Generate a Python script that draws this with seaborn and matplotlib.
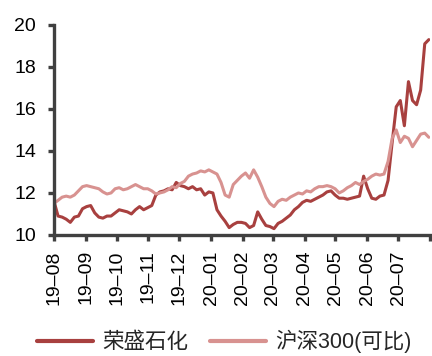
import matplotlib
matplotlib.use("Agg")
from matplotlib import pyplot as plt
import pandas as pd
import seaborn as sns

# dates: ~4-day grid from 2019-08-01 to 2020-07-31
dates = pd.date_range("2019-08-01", "2020-07-31", periods=93)

rongsheng = [
    11.6, 10.9, 10.85, 10.75, 10.6, 10.85, 10.9, 11.25, 11.35, 11.4,
    11.05, 10.85, 10.8, 10.9, 10.9, 11.05, 11.2, 11.15, 11.1, 11.0,
    11.2, 11.35, 11.2, 11.3, 11.4, 11.9, 12.05, 12.1, 12.2, 12.15,
    12.5, 12.35, 12.3, 12.2, 12.3, 12.15, 12.2, 11.9, 12.05, 12.0,
    11.2, 10.9, 10.65, 10.35, 10.5, 10.6, 10.6, 10.55, 10.35, 10.45,
    11.1, 10.75, 10.45, 10.4, 10.3, 10.55, 10.65, 10.8, 10.95, 11.2,
    11.35, 11.55, 11.65, 11.6, 11.7, 11.8, 11.9, 12.05, 12.1, 11.9,
    11.75, 11.75, 11.7, 11.75, 11.8, 11.85, 12.8, 12.2, 11.75, 11.7,
    11.85, 11.9, 12.6, 14.4, 16.1, 16.4, 15.2, 17.3, 16.4, 16.2,
    16.9, 19.1, 19.3,
]

hs300 = [
    11.5, 11.65, 11.8, 11.85, 11.8, 11.9, 12.1, 12.3, 12.35, 12.3,
    12.25, 12.2, 12.05, 11.95, 12.0, 12.2, 12.25, 12.15, 12.2, 12.3,
    12.4, 12.3, 12.2, 12.2, 12.1, 11.95, 12.0, 12.05, 12.15, 12.3,
    12.25, 12.45, 12.55, 12.8, 12.9, 12.95, 13.05, 13.0, 13.1, 13.0,
    12.9, 12.5, 11.9, 11.8, 12.4, 12.6, 12.8, 12.95, 12.7, 13.1,
    12.75, 12.3, 11.8, 11.5, 11.35, 11.6, 11.7, 11.65, 11.8, 11.9,
    12.0, 11.95, 12.1, 12.05, 12.2, 12.3, 12.3, 12.35, 12.3, 12.2,
    12.0, 12.1, 12.25, 12.35, 12.5, 12.4, 12.55, 12.65, 12.8, 12.9,
    12.85, 12.9, 13.5, 14.6, 15.0, 14.4, 14.7, 14.6, 14.2, 14.5,
    14.8, 14.85, 14.65,
]

month_ticks = pd.date_range("2019-08-01", "2020-07-01", freq="MS")
tick_labels = ["19–08", "19–09", "19–10", "19–11", "19–12", "20–01",
               "20–02", "20–03", "20–04", "20–05", "20–06", "20–07"]

labels = ["荣盛石化", "沪深300(可比)"]
colors = ["#A8403F", "#D89290"]

df = pd.DataFrame({"date": dates, labels[0]: rongsheng, labels[1]: hs300})
long_df = df.melt(id_vars="date", var_name="series", value_name="value")

sns.set_theme(style="white")
plt.rcParams["font.family"] = ["Liberation Sans", "Noto Sans CJK SC"]

fig = plt.figure(figsize=(4.32, 3.56), dpi=100)
ax = fig.add_axes([0.125, 0.34, 0.87, 0.59])

sns.lineplot(data=long_df, x="date", y="value", hue="series",
             palette=dict(zip(labels, colors)), hue_order=labels,
             linewidth=2.2, ax=ax, legend=False)

ax.set_xlim(pd.Timestamp("2019-08-01"), pd.Timestamp("2020-08-01"))
ax.set_ylim(10, 20)
ax.set_yticks([10, 12, 14, 16, 18, 20])
ax.set_xticks(list(month_ticks) + [pd.Timestamp("2020-08-01")])
ax.set_xticklabels(tick_labels + [""], rotation=90)

for s in ["top", "right"]:
    ax.spines[s].set_visible(False)
for s in ["left", "bottom"]:
    ax.spines[s].set_color("#404040")
    ax.spines[s].set_linewidth(2.4)

ax.tick_params(axis="both", direction="out", length=4, width=2.4,
               color="#404040", labelsize=14, labelcolor="black",
               bottom=True, left=True)
ax.tick_params(axis="y", pad=9)
ax.tick_params(axis="x", pad=7)
ax.set_xlabel("")
ax.set_ylabel("")

handles = [plt.Line2D([], [], color=c, linewidth=3) for c in colors]
fig.legend(handles, labels, loc="center left", bbox_to_anchor=(0.085, 0.04),
           ncol=2, frameon=False, fontsize=15.5, handlelength=2.6,
           columnspacing=1.0, handletextpad=0.45, borderpad=0, borderaxespad=0)

fig.savefig("out.png", dpi=100)
